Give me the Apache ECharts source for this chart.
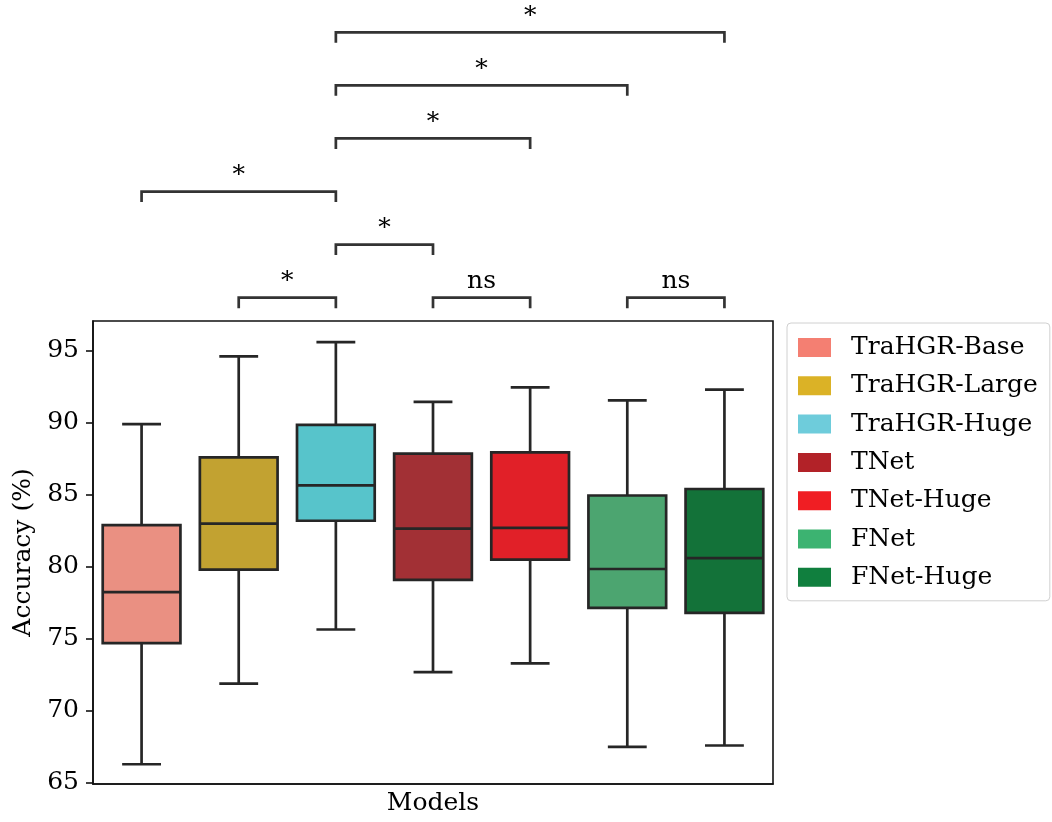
<!DOCTYPE html>
<html><head><meta charset="utf-8">
<script src="https://cdn.jsdelivr.net/npm/echarts@6/dist/echarts.min.js"></script>
<style>html,body{margin:0;padding:0;background:#fff}#c{width:1052px;height:822px}</style>
</head><body><div id="c"></div>
<script>
// ---- data ----
const models = ['TraHGR-Base','TraHGR-Large','TraHGR-Huge','TNet','TNet-Huge','FNet','FNet-Huge'];
const whiskerLow  = [66.3, 71.9, 75.65, 72.7, 73.3, 67.5, 67.6];
const q1          = [74.7, 79.8, 83.2, 79.1, 80.5, 77.15, 76.8];
const median      = [78.25, 83.0, 85.65, 82.65, 82.7, 79.85, 80.6];
const q3          = [82.9, 87.6, 89.85, 87.85, 87.95, 84.95, 85.4];
const whiskerHigh = [89.9, 94.6, 95.6, 91.45, 92.45, 91.55, 92.3];
const yTicks = [65, 70, 75, 80, 85, 90, 95];
// significance comparisons (category indices, stacking level, label)
const compLeft  = [1, 3, 5, 2, 0, 2, 2, 2];
const compRight = [2, 4, 6, 3, 2, 4, 5, 6];
const compLevel = [0, 0, 0, 1, 2, 3, 4, 5];
const compLabel = ['*', 'ns', 'ns', '*', '*', '*', '*', '*'];

// ---- styles ----
const boxFill = ['#EA9082','#C2A231','#57C4CB','#A23035','#E12028','#4CA570','#137239'];
const legendColor = ['#F47F72','#DBB226','#6ECCDB','#B22228','#F01E23','#3CB371','#107F3E'];
const FONT = 'DejaVu Serif';
const EDGE = '#262626';
const LW = 2.7;

const chart = echarts.init(document.getElementById('c'), null, {renderer: 'canvas'});

function boxRender(i) {
  return function (params, api) {
    const x = api.value(0);
    const band = api.size([1, 0])[0];
    const w = band * 0.8;
    const capHalf = w / 4;
    const pLow = api.coord([x, api.value(1)]);
    const pQ1 = api.coord([x, api.value(2)]);
    const pMed = api.coord([x, api.value(3)]);
    const pQ3 = api.coord([x, api.value(4)]);
    const pHigh = api.coord([x, api.value(5)]);
    const cx = pMed[0];
    const ls = {stroke: EDGE, lineWidth: LW};
    return {
      type: 'group',
      children: [
        {type: 'line', shape: {x1: cx, y1: pQ3[1], x2: cx, y2: pHigh[1]}, style: ls},
        {type: 'line', shape: {x1: cx, y1: pQ1[1], x2: cx, y2: pLow[1]}, style: ls},
        {type: 'line', shape: {x1: cx - capHalf, y1: pHigh[1], x2: cx + capHalf, y2: pHigh[1]}, style: ls},
        {type: 'line', shape: {x1: cx - capHalf, y1: pLow[1], x2: cx + capHalf, y2: pLow[1]}, style: ls},
        {type: 'rect', shape: {x: cx - w / 2, y: pQ3[1], width: w, height: pQ1[1] - pQ3[1]},
          style: {fill: boxFill[i], stroke: EDGE, lineWidth: LW}},
        {type: 'line', shape: {x1: cx - w / 2, y1: pMed[1], x2: cx + w / 2, y2: pMed[1]}, style: ls}
      ]
    };
  };
}

const boxSeries = models.map((name, i) => ({
  type: 'custom',
  name: name,
  xAxisIndex: 0,
  yAxisIndex: 0,
  itemStyle: {color: legendColor[i]},
  encode: {x: 0, y: [1, 2, 3, 4, 5]},
  data: [[i, whiskerLow[i], q1[i], median[i], q3[i], whiskerHigh[i]]],
  renderItem: boxRender(i),
  silent: true
}));

const compData = compLeft.map((l, k) => [l, compRight[k], compLevel[k]]);
const DROP = 0.198;

const annotSeries = {
  type: 'custom',
  xAxisIndex: 1,
  yAxisIndex: 1,
  encode: {x: [0, 1], y: 2},
  data: compData,
  silent: true,
  renderItem: function (params, api) {
    const a = api.value(0), b = api.value(1), lv = api.value(2);
    const p1 = api.coord([a, lv - DROP]);
    const p2 = api.coord([a, lv]);
    const p3 = api.coord([b, lv]);
    const p4 = api.coord([b, lv - DROP]);
    return {
      type: 'group',
      children: [
        {type: 'polyline', shape: {points: [p1, p2, p3, p4]},
          style: {stroke: '#333333', lineWidth: LW, fill: null, lineJoin: 'miter'}},
        {type: 'text', x: (p2[0] + p3[0]) / 2, y: p2[1] - 16,
          style: {text: compLabel[params.dataIndex], fontFamily: FONT, fontSize: 25,
            fill: '#000', align: 'center', verticalAlign: 'middle'}}
      ]
    };
  }
};

chart.setOption({
  animation: false,
  backgroundColor: '#fff',
  grid: [
    {left: 93, right: 279, top: 321, bottom: 38, show: true, borderColor: '#111', borderWidth: 1.6, backgroundColor: 'transparent'},
    {left: 93, right: 279, top: 0, bottom: 501}
  ],
  xAxis: [
    {type: 'category', gridIndex: 0, data: models, boundaryGap: true,
      axisLabel: {show: false}, axisTick: {show: false},
      axisLine: {show: true, lineStyle: {color: '#111', width: 1.6}},
      splitLine: {show: false},
      name: 'Models', nameLocation: 'middle', nameGap: 7,
      nameTextStyle: {fontFamily: FONT, fontSize: 25, color: '#000', verticalAlign: 'top'}},
    {type: 'value', gridIndex: 1, min: -0.5, max: 6.5, show: false}
  ],
  yAxis: [
    {type: 'value', gridIndex: 0, min: 64.93, max: 97.06,
      axisLine: {show: true, lineStyle: {color: '#111', width: 1.6}},
      axisTick: {show: true, length: 7, customValues: yTicks, lineStyle: {color: '#111', width: 1.6}},
      axisLabel: {customValues: yTicks, margin: 14, fontFamily: FONT, fontSize: 25, color: '#000'},
      splitLine: {show: false},
      name: 'Accuracy (%)', nameLocation: 'middle', nameGap: 57,
      nameTextStyle: {fontFamily: FONT, fontSize: 25, color: '#000'}},
    {type: 'value', gridIndex: 1, min: -0.439, max: 5.608, show: false}
  ],
  legend: {
    data: models, orient: 'vertical', left: 787, top: 323,
    icon: 'rect', itemWidth: 33, itemHeight: 19, itemGap: 13.3,
    padding: [12, 12, 11, 11],
    borderColor: '#d0d0d0', borderWidth: 1, borderRadius: 4,
    backgroundColor: '#fff',
    selectedMode: false,
    textStyle: {fontFamily: FONT, fontSize: 25, color: '#000', padding: [0, 0, 0, 15]}
  },
  series: boxSeries.concat([annotSeries])
});
</script>
</body></html>
